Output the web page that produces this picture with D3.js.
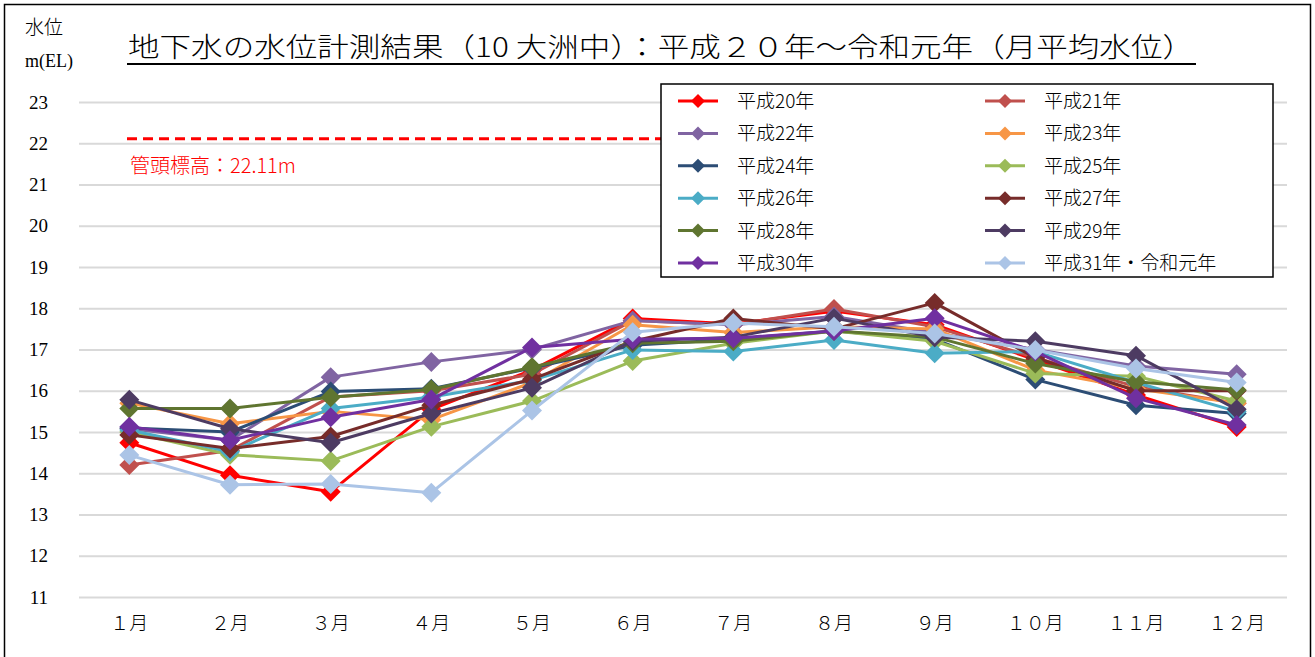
<!DOCTYPE html>
<html><head><meta charset="utf-8">
<script src="https://cdn.jsdelivr.net/npm/d3@7/dist/d3.min.js"></script>
<style>
html,body{margin:0;padding:0;background:#fff;}
svg{display:block;}
text{font-family:"Liberation Serif","Noto Sans CJK JP",serif;}
</style></head>
<body>
<svg id="chart" width="1315" height="657"></svg>
<script>
const months = ["１月","２月","３月","４月","５月","６月","７月","８月","９月","１０月","１１月","１２月"];
const yTicks = [11,12,13,14,15,16,17,18,19,20,21,22,23];
const seriesNames = ["平成20年","平成21年","平成22年","平成23年","平成24年","平成25年","平成26年","平成27年","平成28年","平成29年","平成30年","平成31年・令和元年"];
const seriesColors = ["#FF0000","#C0504D","#8064A2","#F79646","#2C4D75","#9BBB59","#4BACC6","#772C2A","#5F7530","#4D3B62","#7030A0","#ABC4E6"];
const h20 = [14.74,13.95,13.55,15.55,16.50,17.75,17.62,17.93,17.60,16.75,15.90,15.12];
const h21 = [14.20,14.55,15.85,16.00,16.40,17.70,17.60,17.98,17.55,16.80,16.10,15.70];
const h22 = [15.08,14.80,16.33,16.70,17.00,17.70,17.60,17.80,17.40,17.00,16.60,16.40];
const h23 = [15.70,15.20,15.50,15.30,16.20,17.60,17.41,17.55,17.50,16.50,16.05,15.70];
const h24 = [15.10,15.00,15.98,16.05,16.55,17.10,17.25,17.45,17.25,16.27,15.65,15.45];
const h25 = [15.00,14.45,14.30,15.13,15.75,16.72,17.15,17.45,17.20,16.42,16.35,15.75];
const h26 = [15.05,14.52,15.57,15.85,16.25,16.99,16.95,17.23,16.91,16.95,16.20,15.50];
const h27 = [14.93,14.60,14.89,15.65,16.28,17.20,17.75,17.50,18.13,16.80,16.00,16.00];
const h28 = [15.57,15.57,15.84,16.03,16.57,17.15,17.20,17.45,17.30,16.66,16.22,16.02];
const h29 = [15.78,15.08,14.74,15.45,16.07,17.20,17.30,17.76,17.30,17.20,16.85,15.55];
const h30 = [15.13,14.80,15.36,15.79,17.05,17.25,17.27,17.45,17.76,16.95,15.82,15.17];
const h31 = [14.44,13.72,13.74,13.53,15.52,17.42,17.64,17.55,17.39,16.99,16.54,16.20];
const seriesValues = [h20,h21,h22,h23,h24,h25,h26,h27,h28,h29,h30,h31];
const pipeTop = 22.11;
const pipeLabel = "管頭標高：22.11m";
const titleText = "地下水の水位計測結果（10 大洲中）：平成２０年～令和元年（月平均水位）";

const svg = d3.select("#chart");
const L = 79, R = 1287, T = 102, B = 597;

// outer frame
svg.append("rect").attr("x",4.5).attr("y",4.5).attr("width",1306).attr("height",670)
  .attr("fill","#fff").attr("stroke","#000").attr("stroke-width",1.5);

const x = d3.scaleBand().domain(months).range([L,R]).padding(0);
const y = d3.scaleLinear().domain([11,23]).range([B,T]);
const cx = m => x(m) + x.bandwidth()/2;

// y axis with gridlines
const yAxis = svg.append("g").attr("transform",`translate(${L},0)`)
  .call(d3.axisLeft(y).tickValues(yTicks).tickSize(-(R-L)).tickPadding(31).tickFormat(d3.format("d")));
yAxis.select(".domain").remove();
yAxis.selectAll(".tick line").attr("stroke","#D9D9D9").attr("stroke-width",2);
yAxis.selectAll(".tick text").attr("font-size",19).attr("fill","#000");

// x axis labels
const xAxis = svg.append("g").attr("transform",`translate(0,${B})`)
  .call(d3.axisBottom(x).tickSize(0).tickPadding(20));
xAxis.select(".domain").remove();
xAxis.selectAll(".tick text").attr("font-size",19).attr("fill","#000")
  .style("font-family","'Noto Sans CJK JP',sans-serif").style("font-weight",300);

// axis title
svg.append("text").attr("x",25).attr("y",34).attr("font-size",19).text("水位")
  .style("font-family","'Noto Sans CJK JP',sans-serif").style("font-weight",300);
svg.append("text").attr("x",25).attr("y",67).attr("font-size",18).text("m(EL)");

// title
svg.append("text").attr("x",128).attr("y",57).attr("font-size",27)
  .attr("textLength",1066).attr("lengthAdjust","spacingAndGlyphs")
  .style("font-family","'Noto Sans CJK JP',sans-serif").style("font-weight",300)
  .text(titleText);
svg.append("line").attr("x1",127).attr("x2",1196).attr("y1",64).attr("y2",64)
  .attr("stroke","#000").attr("stroke-width",2);

// pipe top dashed line
svg.append("line").attr("x1",127).attr("x2",1265).attr("y1",y(pipeTop)).attr("y2",y(pipeTop))
  .attr("stroke","#FF0000").attr("stroke-width",3).attr("stroke-dasharray","10,6");
svg.append("text").attr("x",130).attr("y",173).attr("font-size",20).attr("fill","#FF0000")
  .style("font-family","'Noto Sans CJK JP',sans-serif").style("font-weight",300)
  .text(pipeLabel);

// series
const line = d3.line().x((d,i)=>cx(months[i])).y(d=>y(d));
const diamond = (s) => `M0,${-s}L${s},0L0,${s}L${-s},0Z`;
seriesValues.forEach((vals,k)=>{
  const g = svg.append("g");
  g.append("path").datum(vals).attr("d",line).attr("fill","none")
    .attr("stroke",seriesColors[k]).attr("stroke-width",3).attr("stroke-linejoin","round");
  g.selectAll("path.m").data(vals).join("path").attr("class","m")
    .attr("transform",(d,i)=>`translate(${cx(months[i])},${y(d)})`)
    .attr("d",diamond(10)).attr("fill",seriesColors[k]);
});

// legend
const lg = svg.append("g");
lg.append("rect").attr("x",661).attr("y",84).attr("width",612).attr("height",193)
  .attr("fill","#fff").attr("stroke","#000").attr("stroke-width",1.5);
seriesNames.forEach((name,k)=>{
  const col = k%2, row = Math.floor(k/2);
  const lx = col===0 ? 678 : 985;
  const ly = 101 + row*32.4;
  lg.append("line").attr("x1",lx).attr("x2",lx+40).attr("y1",ly).attr("y2",ly)
    .attr("stroke",seriesColors[k]).attr("stroke-width",3);
  lg.append("path").attr("transform",`translate(${lx+20},${ly})`).attr("d",diamond(7)).attr("fill",seriesColors[k]);
  lg.append("text").attr("x",lx+59).attr("y",ly+7).attr("font-size",19).text(name)
    .style("font-family","'Noto Sans CJK JP',sans-serif").style("font-weight",300);
});
</script>
</body></html>
